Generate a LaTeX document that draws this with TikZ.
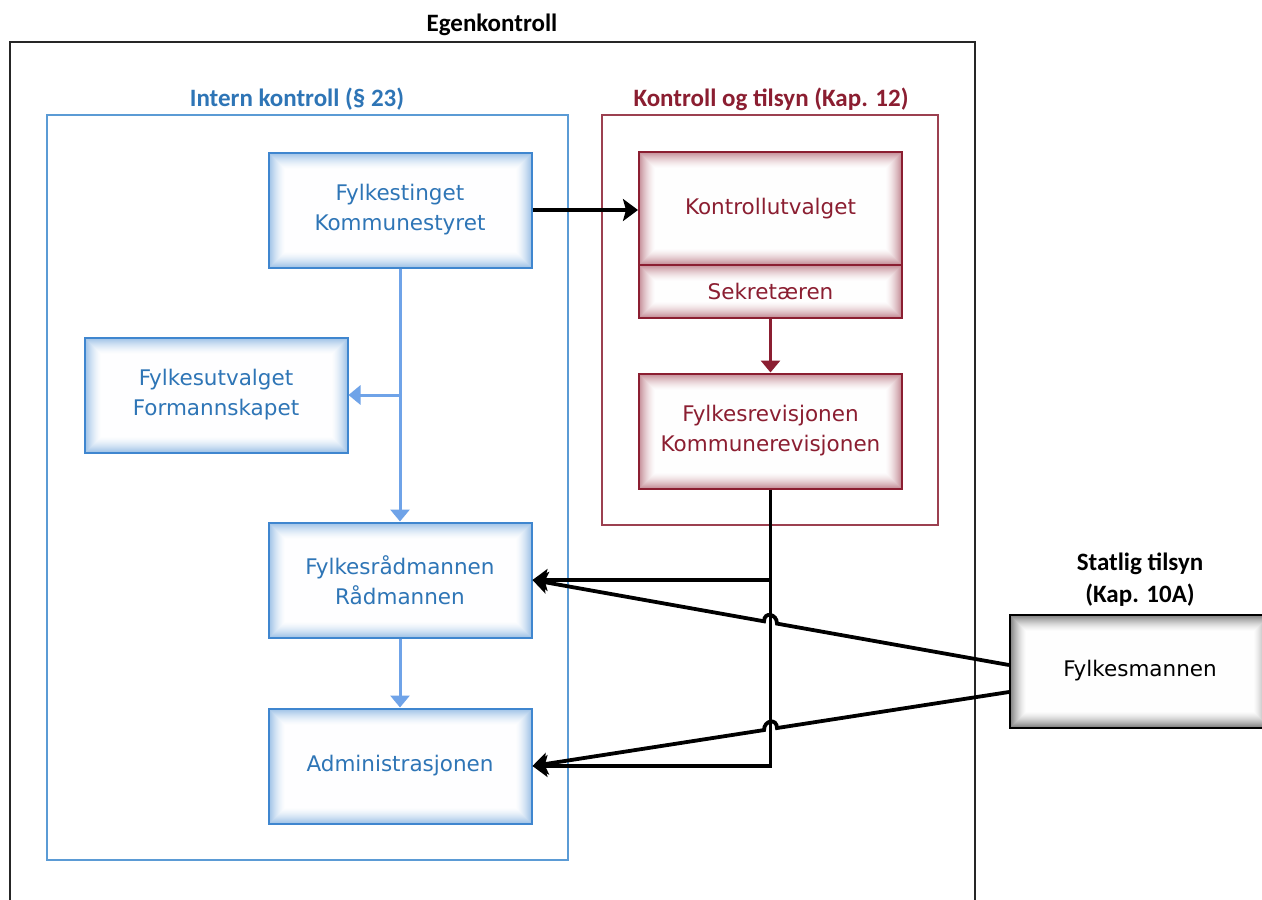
\documentclass[tikz,border=0pt]{standalone}
\usepackage{fontspec}
\setmainfont{DejaVu Sans}
\newfontfamily\condfont{Carlito}
\usetikzlibrary{arrows.meta,calc,backgrounds}
\pgfdeclarelayer{bottom}
\pgfsetlayers{bottom,background,main}
\definecolor{bluetxt}{HTML}{2E75B6}
\definecolor{blueline}{HTML}{5B9BD5}
\definecolor{bluearrow}{HTML}{6FA3E8}
\definecolor{boxblue}{HTML}{3F86CF}
\definecolor{darkred}{HTML}{8B1E31}
\newcommand\glow[2]{%
  \begin{scope}[on background layer]
    \fill[#2!3!white] (#1.south west) rectangle (#1.north east);
    \foreach \i in {0,...,17}{%
      \pgfmathsetmacro\p{55*(1-\i/18)^1.6}
      \fill[#2!\p!white] ($(#1.south west)+(\i,-\i)$) rectangle ($(#1.north east)+(-\i,\i)$);}
  \end{scope}}
\begin{document}
\begin{tikzpicture}[x=1pt,y=-1pt,
  boxfont/.style={font=\fontsize{21.5}{30}\selectfont},
  titlefont/.style={font=\condfont\bfseries\fontsize{25}{32}\selectfont},
  bbox/.style={draw=boxblue, line width=2pt, minimum width=263, minimum height=115, text=bluetxt, align=center, boxfont, inner sep=0pt},
  rbox/.style={draw=darkred, line width=2pt, minimum width=263, text=darkred, align=center, boxfont, inner sep=0pt},
  kbox/.style={draw=black, line width=2pt, minimum width=260, minimum height=113, text=black, align=center, boxfont, inner sep=0pt},
  frame/.style={draw, inner sep=0pt},
  blk/.style={draw=black, line width=3.8pt, -{Stealth[length=15pt,width=22pt,inset=3pt]}},
  bluearr/.style={draw=bluearrow, line width=3pt, -{Triangle[length=12pt,width=19pt]}},
  redarr/.style={draw=darkred, line width=3pt, -{Triangle[length=12pt,width=19pt]}}]
\useasboundingbox (0,0) rectangle (1262,900);
\begin{pgfonlayer}{bottom}
\fill[white] (0,0) rectangle (1262,900);
\end{pgfonlayer}

% containers
\node[frame, line width=2.2pt, draw=black!85, minimum width=965, minimum height=870] (ego) at (492.5,477) {};
\node[titlefont, text=black] (egot) at (492,25) {Egenkontroll};
\node[frame, line width=1.8pt, draw=blueline, minimum width=521, minimum height=745] (ik) at (307.5,487.5) {};
\node[titlefont, text=bluetxt] (ikt) at (297,99) {Intern kontroll (§ 23)};
\node[frame, line width=1.8pt, draw=darkred!85, minimum width=336, minimum height=410] (kt) at (770,320) {};
\node[titlefont, text=darkred] (ktt) at (771,99) {Kontroll og tilsyn (Kap. 12)};
\node[titlefont, text=black, align=center] (stt) at (1140,580) {Statlig tilsyn\\(Kap. 10A)};

% blue boxes
\node[bbox] (ft) at (400,210) {Fylkestinget\\Kommunestyret};
\node[bbox] (fu) at (216,395) {Fylkesutvalget\\Formannskapet};
\node[bbox] (fr) at (400,580) {Fylkesrådmannen\\Rådmannen};
\node[bbox] (ad) at (400,766) {Administrasjonen};
\glow{ft}{boxblue}\glow{fu}{boxblue}\glow{fr}{boxblue}\glow{ad}{boxblue}

% red boxes
\node[rbox, minimum height=113] (ku) at (770.5,208.5) {Kontrollutvalget};
\node[rbox, minimum height=53] (sk) at (770.5,291.5) {Sekretæren};
\node[rbox, minimum height=115] (rev) at (770.5,431) {Fylkesrevisjonen\\Kommunerevisjonen};
\glow{ku}{darkred}\glow{sk}{darkred}\glow{rev}{darkred}

% black box
\node[kbox] (fm) at (1140,671) {Fylkesmannen};
\glow{fm}{black}

% connectors
\draw[blk] (ft.east) -- (ft.east -| ku.west);
\draw[bluearr] (ft.south) -- (fr.north);
\coordinate (bj) at (ft.south |- fu.east);
\draw[bluearr] (bj) -- (fu.east);
\draw[bluearr] (fr.south) -- (ad.north);
\draw[redarr] (sk.south) -- (rev.north);

\coordinate (rvb) at (rev.south |- ad.east);
\coordinate (rvm) at (rev.south |- fr.east);
\draw[blk] (rev.south) -- (rvb) -- (ad.east);
\draw[blk] (rvm) -- (fr.east);

\coordinate (fa) at ([yshift=6pt]fm.west);
\coordinate (fb) at ([yshift=-21pt]fm.west);
\coordinate (j1a) at ($(fa)!0.4869!(fr.east)$);
\coordinate (j1b) at ($(fa)!0.5141!(fr.east)$);
\coordinate (j2a) at ($(fb)!0.4869!(ad.east)$);
\coordinate (j2b) at ($(fb)!0.5141!(ad.east)$);
\draw[blk] (fa) -- (j1a) .. controls ($(j1a)+(0,-10)$) and ($(j1b)+(0,-10)$) .. (j1b) -- (fr.east);
\draw[blk] (fb) -- (j2a) .. controls ($(j2a)+(0,-10)$) and ($(j2b)+(0,-10)$) .. (j2b) -- (ad.east);
\end{tikzpicture}
\end{document}
